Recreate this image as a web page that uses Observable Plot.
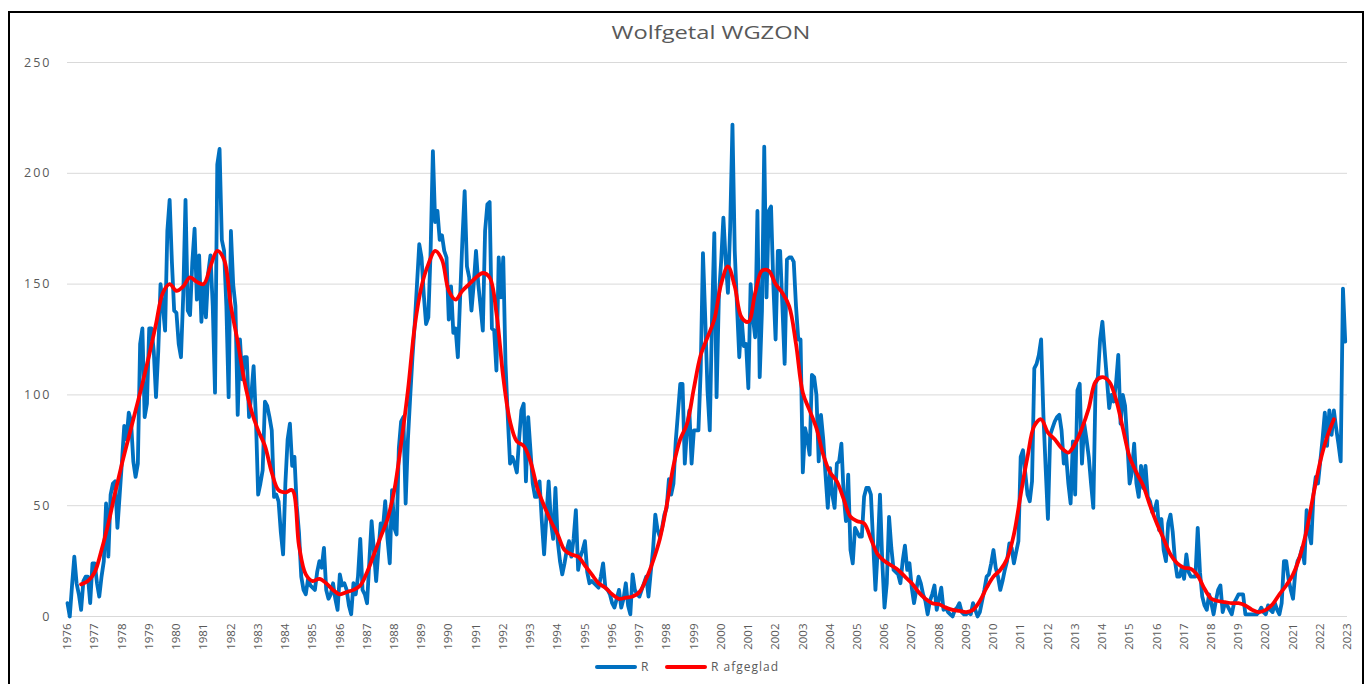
<!DOCTYPE html>
<html>
<head>
<meta charset="utf-8">
<script src="https://cdn.jsdelivr.net/npm/d3@7"></script>
<script src="https://cdn.jsdelivr.net/npm/@observablehq/plot@0.6"></script>
<style>
  html, body { margin: 0; padding: 0; background: #fff; overflow: hidden; }
  body { width: 1370px; height: 684px; position: relative; font-family: "Open Sans", sans-serif; }
  #frame { position: absolute; left: 8px; top: 11px; width: 1356px; height: 720px; border: 2px solid #000; box-sizing: border-box; }
  #title { position: absolute; left: 711px; top: 23px; font-size: 18.5px; line-height: 18px; color: #595959; white-space: nowrap;
           transform: translateX(-50%) scaleX(1.28); }
  #chart { position: absolute; left: 0; top: 50px; }
  #chart [aria-label="y-axis tick label"] text { letter-spacing: 2px; }
  .lg-line { position: absolute; height: 4px; top: 665px; width: 42px; border-radius: 2px; }
  .lg-text { position: absolute; top: 658px; font-size: 12px; line-height: 18px; color: #595959; letter-spacing: 1px; white-space: nowrap; }
</style>
</head>
<body>
<div id="frame"></div>
<div id="title">Wolfgetal WGZON</div>
<div id="chart"></div>
<div class="lg-line" style="left:595px;background:#0070C0"></div>
<div class="lg-text" style="left:641px">R</div>
<div class="lg-line" style="left:665px;background:#FF0000"></div>
<div class="lg-text" style="left:711px">R afgeglad</div>
<script>
// Monthly Wolf number R, January 1976 .. December 2022 (one row per year)
const startYear = 1976;
const R = [
  6, 0, 14, 27, 15, 10, 3, 16, 18, 18, 6, 24,            // 1976
  24, 15, 9, 18, 25, 51, 27, 55, 60, 61, 40, 55,         // 1977
  70, 86, 80, 92, 88, 70, 63, 69, 123, 130, 90, 96,      // 1978
  130, 130, 120, 99, 120, 150, 140, 129, 174, 188, 160, 138, // 1979
  137, 123, 117, 145, 188, 138, 136, 160, 175, 143, 163, 133, // 1980
  150, 135, 155, 163, 140, 101, 204, 211, 170, 165, 140, 99,  // 1981
  174, 150, 140, 91, 125, 107, 117, 117, 90, 100, 113, 90,    // 1982
  55, 60, 66, 97, 95, 90, 84, 54, 55, 52, 38, 28,        // 1983
  60, 80, 87, 68, 72, 50, 38, 18, 12, 10, 17, 14,        // 1984
  13, 12, 20, 25, 22, 31, 12, 8, 10, 15, 8, 3,           // 1985
  19, 14, 15, 12, 5, 1, 15, 10, 18, 35, 12, 10,          // 1986
  6, 25, 43, 30, 16, 30, 42, 40, 52, 35, 24, 57,         // 1987
  40, 37, 76, 88, 90, 51, 80, 99, 117, 132, 150, 168,    // 1988
  162, 145, 132, 135, 165, 210, 178, 183, 170, 172, 165, 162, // 1989
  134, 149, 128, 130, 117, 144, 170, 192, 158, 153, 138, 150, // 1990
  165, 150, 140, 129, 174, 186, 187, 130, 129, 111, 162, 144, // 1991
  162, 114, 90, 69, 72, 69, 65, 80, 93, 96, 61, 90,      // 1992
  75, 60, 54, 54, 61, 43, 28, 45, 61, 43, 35, 58,        // 1993
  34, 25, 19, 24, 30, 34, 27, 35, 48, 21, 27, 30,        // 1994
  34, 20, 15, 16, 15, 14, 13, 18, 24, 13, 12, 10,        // 1995
  6, 4, 8, 12, 4, 8, 15, 5, 1, 19, 12, 10,               // 1996
  9, 12, 15, 18, 9, 20, 30, 46, 39, 36, 40, 46,          // 1997
  49, 62, 55, 60, 79, 92, 105, 105, 69, 85, 93, 69,      // 1998
  84, 84, 84, 111, 164, 135, 102, 84, 135, 173, 99, 144, // 1999
  160, 180, 161, 146, 176, 222, 165, 140, 117, 135, 122, 123, // 2000
  103, 150, 135, 126, 183, 108, 138, 212, 144, 183, 185, 150, // 2001
  125, 165, 165, 140, 114, 161, 162, 162, 160, 140, 125, 125, // 2002
  65, 85, 80, 73, 109, 108, 100, 70, 91, 80, 64, 49,     // 2003
  67, 55, 49, 69, 70, 78, 55, 43, 64, 30, 24, 40,        // 2004
  38, 36, 36, 54, 58, 58, 55, 33, 12, 30, 55, 25,        // 2005
  4, 15, 45, 31, 21, 20, 19, 15, 25, 32, 21, 24,         // 2006
  13, 6, 12, 18, 15, 10, 7, 1, 7, 10, 14, 3,             // 2007
  8, 13, 3, 4, 2, 1, 0, 3, 4, 6, 2, 1,                   // 2008
  1, 2, 1, 6, 3, 0, 2, 7, 12, 18, 19, 24,                // 2009
  30, 22, 18, 12, 16, 21, 25, 33, 31, 24, 29, 34,        // 2010
  72, 75, 65, 55, 52, 61, 112, 114, 118, 125, 91, 67,    // 2011
  44, 82, 85, 88, 90, 91, 84, 69, 73, 60, 51, 79,        // 2012
  55, 102, 105, 69, 87, 80, 72, 60, 49, 105, 108, 125,   // 2013
  133, 120, 107, 94, 100, 97, 105, 118, 87, 100, 95, 78, // 2014
  60, 65, 78, 60, 54, 68, 58, 68, 54, 52, 47, 48,        // 2015
  52, 39, 44, 30, 25, 42, 46, 38, 25, 18, 18, 22,        // 2016
  17, 28, 20, 18, 18, 18, 40, 20, 9, 5, 3, 10,           // 2017
  6, 1, 7, 12, 14, 2, 6, 5, 3, 1, 6, 8,                  // 2018
  10, 10, 10, 1, 1, 1, 1, 1, 1, 2, 4, 2,                 // 2019
  1, 5, 3, 2, 6, 3, 1, 6, 25, 25, 17, 12,                // 2020
  8, 20, 25, 27, 31, 24, 48, 38, 33, 55, 63, 60,         // 2021
  70, 80, 92, 77, 93, 82, 93, 85, 78, 70, 148, 124       // 2022
];

// Smoothed R ("R afgeglad"), read every 3 months from July 1976
const smoothStartMonth = 6;
const smoothStepMonths = 3;
const Rsmooth = [
  14.5, 16,                 // 1976
  20, 30, 42, 56,           // 1977
  69, 81, 93, 105,          // 1978
  118, 132, 146, 150,       // 1979
  147, 149, 153, 151,       // 1980
  150, 158, 165, 161,       // 1981
  140, 124, 106, 93,        // 1982
  84, 77, 65, 57,           // 1983
  56, 57, 32, 19,           // 1984
  16, 17, 15, 12,           // 1985
  10, 11, 12, 14,           // 1986
  20, 28, 36, 44,           // 1987
  57, 78, 102, 131,         // 1988
  149, 159, 165, 161,       // 1989
  147, 143, 147, 150,       // 1990
  153, 155, 153, 137,       // 1991
  108, 88, 79, 77,          // 1992
  70, 58, 50, 43,           // 1993
  37, 30, 28, 27,           // 1994
  23, 19, 15, 13,           // 1995
  10, 8, 8.5, 9,            // 1996
  11, 17, 25, 35,           // 1997
  50, 68, 80, 87,           // 1998
  103, 118, 126, 134,       // 1999
  150, 158, 149, 135,       // 2000
  133, 146, 156, 156,       // 2001
  150, 146, 140, 123,       // 2002
  101, 93, 85, 73,          // 2003
  65, 61, 53, 45,           // 2004
  43, 42, 35, 28,           // 2005
  25, 23, 21, 18,           // 2006
  15, 11, 8, 6,             // 2007
  5.5, 4, 3, 2.5,           // 2008
  2, 3, 7, 13,              // 2009
  18, 21, 26, 37,           // 2010
  55, 72, 86, 89,           // 2011
  83, 80, 76, 74,           // 2012
  78, 85, 94, 106,          // 2013
  108, 106, 98, 85,         // 2014
  72, 65, 59, 50,           // 2015
  42, 35, 28, 24,           // 2016
  22, 21.5, 18.5, 12.5,     // 2017
  8, 7, 6.5, 6,             // 2018
  6, 5, 3, 2,               // 2019
  3, 5.5, 10, 14,           // 2020
  19, 27, 39, 55,           // 2021
  70, 81, 89                // 2022
];

const yearTicks = [1976, 1977, 1978, 1979, 1980, 1981, 1982, 1983, 1984, 1985, 1986, 1987,
  1988, 1989, 1990, 1991, 1992, 1993, 1994, 1995, 1996, 1997, 1998, 1999, 2000, 2001,
  2002, 2003, 2004, 2005, 2006, 2007, 2008, 2009, 2010, 2011, 2012, 2013, 2014, 2015,
  2016, 2017, 2018, 2019, 2020, 2021, 2022, 2023];
const yTicks = [0, 50, 100, 150, 200, 250];

const raw = R.map((v, i) => ({t: startYear + i / 12, v}));
const smooth = Rsmooth.map((v, k) => ({t: startYear + (smoothStartMonth + k * smoothStepMonths) / 12, v}));

const chart = Plot.plot({
  width: 1370,
  height: 610,
  marginLeft: 67,
  marginRight: 23,
  marginTop: 12,
  marginBottom: 44,
  x: {domain: [1976, 2023], label: null},
  y: {domain: [0, 250], label: null},
  style: {fontFamily: "Open Sans, sans-serif", color: "#595959", background: "transparent", overflow: "visible"},
  marks: [
    Plot.gridY(yTicks, {stroke: "#d9d9d9", strokeOpacity: 1, strokeWidth: 1}),
    Plot.axisY(yTicks, {tickSize: 0, tickPadding: 16, fontSize: 12.5, label: null}),
    Plot.axisX(yearTicks, {tickSize: 0, tickRotate: -90, tickPadding: 7, fontSize: 11.5, label: null, tickFormat: d => String(d)}),
    Plot.lineY(raw, {x: "t", y: "v", stroke: "#0070C0", strokeWidth: 3.8, strokeLinejoin: "round"}),
    Plot.lineY(smooth, {x: "t", y: "v", stroke: "#FF0000", strokeWidth: 3.8, curve: "catmull-rom"})
  ]
});
document.getElementById("chart").appendChild(chart);
</script>
</body>
</html>
